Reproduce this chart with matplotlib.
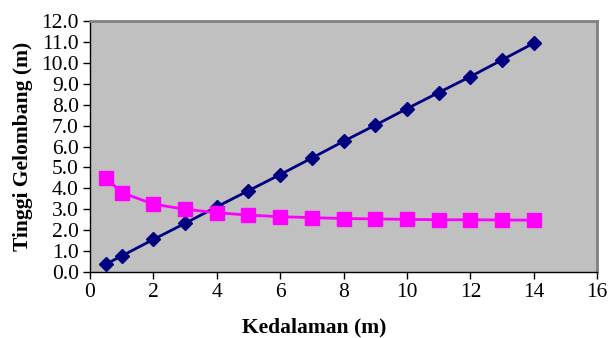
import matplotlib
matplotlib.use('Agg')
import matplotlib.pyplot as plt
from matplotlib.ticker import MultipleLocator, FormatStrFormatter

depth = [0.5, 1, 2, 3, 4, 5, 6, 7, 8, 9, 10, 11, 12, 13, 14]
navy_h = [0.38, 0.77, 1.56, 2.33, 3.12, 3.89, 4.66, 5.45, 6.25, 7.02, 7.81, 8.58, 9.34, 10.14, 10.94]
pink_h = [4.5, 3.8, 3.25, 3.0, 2.84, 2.72, 2.65, 2.6, 2.56, 2.54, 2.52, 2.5, 2.5, 2.49, 2.48]

plt.rcParams['font.family'] = ['Liberation Serif']

fig = plt.figure(figsize=(6.1, 3.38), dpi=100)
ax = fig.add_axes([0.1475, 0.195, 0.8315, 0.743])
ax.set_facecolor('#c0c0c0')

ax.plot(depth, navy_h, color='#000080', lw=2, marker='D', ms=7, zorder=3)
ax.plot(depth, pink_h, color='#ff00ff', lw=2, marker='s', ms=10, zorder=3)

ax.set_xlim(0, 16)
ax.set_ylim(0, 12)
ax.xaxis.set_major_locator(MultipleLocator(2))
ax.yaxis.set_major_locator(MultipleLocator(1))
ax.yaxis.set_major_formatter(FormatStrFormatter('%.1f'))
ax.tick_params(direction='out', length=5, width=1, labelsize=15.5, colors='black', pad=3)

for s in ax.spines.values():
    s.set_color('#808080')
    s.set_linewidth(2)
ax.spines['left'].set_color('black')
ax.spines['left'].set_linewidth(1)
ax.spines['bottom'].set_color('black')
ax.spines['bottom'].set_linewidth(1)

ax.set_xlabel('Kedalaman (m)', fontsize=15.5, fontweight='bold')
ax.set_ylabel('Tinggi Gelombang (m)', fontsize=15.5, fontweight='bold', labelpad=6)
# label sits a bit left of the plot centre, like the original chart
ax.xaxis.set_label_coords(0.443, -0.18)

fig.savefig('out.png', dpi=100)
